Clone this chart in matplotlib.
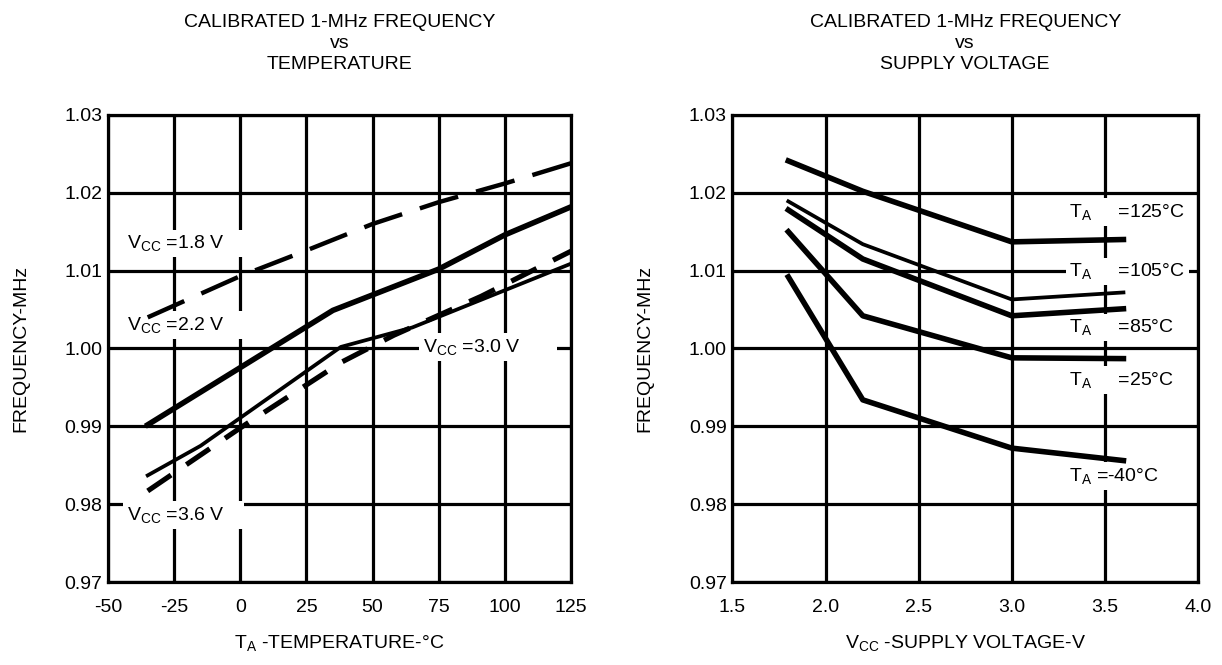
import matplotlib
matplotlib.use('Agg')
import matplotlib.pyplot as plt

plt.rcParams['font.family'] = ['Liberation Sans', 'DejaVu Sans']
plt.rcParams['mathtext.fontset'] = 'custom'
plt.rcParams['mathtext.rm'] = 'Liberation Sans'
plt.rcParams['font.size'] = 14

# left chart: frequency vs temperature, one curve per supply voltage
temp_18 = [-35, 0, 25, 50, 75, 100, 125]
freq_18 = [1.0040, 1.0093, 1.0126, 1.0160, 1.0188, 1.0212, 1.0238]
temp_22 = [-35, 35, 75, 100, 125]
freq_22 = [0.9902, 1.0049, 1.0102, 1.0146, 1.0182]
temp_30 = [-35, -15, 38, 65, 125]
freq_30 = [0.9837, 0.9875, 1.0002, 1.0027, 1.0109]
temp_36 = [-35, 0, 38, 58, 91, 125]
freq_36 = [0.9817, 0.9898, 0.9982, 1.0017, 1.0067, 1.0125]

# right chart: frequency vs supply voltage, one curve per temperature
volts = [1.8, 2.2, 3.0, 3.6]
f_125 = [1.0241, 1.0202, 1.0137, 1.0140]
f_105 = [1.0189, 1.0134, 1.0063, 1.0072]
f_85 = [1.0178, 1.0115, 1.0042, 1.0051]
f_25 = [1.0150, 1.0042, 0.9988, 0.9987]
f_m40 = [1.0092, 0.9934, 0.9872, 0.9856]

temp_ticks = [-50, -25, 0, 25, 50, 75, 100, 125]
volt_ticks = [1.5, 2.0, 2.5, 3.0, 3.5, 4.0]
freq_ticks = [0.97, 0.98, 0.99, 1.00, 1.01, 1.02, 1.03]

fig = plt.figure(figsize=(12.22, 6.65), dpi=100)
ax1 = fig.add_axes([0.0884, 0.1248, 0.3789, 0.7023])
ax2 = fig.add_axes([0.5994, 0.1248, 0.3809, 0.7023])

box = dict(boxstyle='square,pad=0.2', facecolor='white', edgecolor='none')


def style_axes(ax, xticks, xfmt):
    ax.set_ylim(0.97, 1.03)
    ax.set_yticks(freq_ticks)
    ax.set_yticklabels(['%.2f' % v for v in freq_ticks])
    ax.set_xlim(xticks[0], xticks[-1])
    ax.set_xticks(xticks)
    ax.set_xticklabels([xfmt % v for v in xticks])
    ax.set_axisbelow(True)
    ax.grid(True, color='black', linewidth=2.3)
    for s in ax.spines.values():
        s.set_linewidth(2.3)
    ax.tick_params(axis='both', length=0)
    ax.tick_params(axis='x', pad=12)
    ax.tick_params(axis='y', pad=4)
    ax.set_ylabel('FREQUENCY-MHz')
    ax.yaxis.set_label_coords(-0.17, 0.5)


style_axes(ax1, temp_ticks, '%d')
style_axes(ax2, volt_ticks, '%.1f')

ax1.plot(temp_18, freq_18, color='black', lw=3.2, dashes=(9, 4.2), zorder=4)
ax1.plot(temp_22, freq_22, color='black', lw=4, zorder=4)
ax1.plot(temp_30, freq_30, color='black', lw=2.7, zorder=4)
ax1.plot(temp_36, freq_36, color='black', lw=3.7, dashes=(5.5, 3.6), zorder=4)

ax1.text(-43, 1.0135, r'$\mathregular{V_{CC}}$ =1.8 V    ', va='center', bbox=box, zorder=3)
ax1.text(-43, 1.0030, r'$\mathregular{V_{CC}}$ =2.2 V    ', va='center', bbox=box, zorder=3)
ax1.text(69, 1.0002, r'$\mathregular{V_{CC}}$ =3.0 V       ', va='center', bbox=box, zorder=3)
ax1.text(-43, 0.9786, r'$\mathregular{V_{CC}}$ =3.6 V    ', va='center', bbox=box, zorder=3)

ax2.plot(volts, f_125, color='black', lw=4, zorder=4)
ax2.plot(volts, f_105, color='black', lw=2.7, zorder=4)
ax2.plot(volts, f_85, color='black', lw=4, zorder=4)
ax2.plot(volts, f_25, color='black', lw=4, zorder=4)
ax2.plot(volts, f_m40, color='black', lw=4, zorder=4)

ax2.text(3.31, 1.0175, r'$\mathregular{T_A}$     =125°C', va='center', bbox=box, zorder=3)
ax2.text(3.31, 1.0099, r'$\mathregular{T_A}$     =105°C', va='center', bbox=box, zorder=3)
ax2.text(3.31, 1.0027, r'$\mathregular{T_A}$     =85°C', va='center', bbox=box, zorder=3)
ax2.text(3.31, 0.9960, r'$\mathregular{T_A}$     =25°C', va='center', bbox=box, zorder=3)
ax2.text(3.31, 0.98358, r'$\mathregular{T_A}$ =-40°C', va='center', bbox=box, zorder=3)

ax1.set_title('CALIBRATED 1-MHz FREQUENCY\nvs\nTEMPERATURE', pad=33, linespacing=1.3,
              fontsize=14)
ax2.set_title('CALIBRATED 1-MHz FREQUENCY\nvs\nSUPPLY VOLTAGE', pad=33, linespacing=1.3,
              fontsize=14)

ax1.set_xlabel(r'$\mathregular{T_A}$ -TEMPERATURE-°C', va='center')
ax1.xaxis.set_label_coords(0.5, -0.13)
ax2.set_xlabel(r'$\mathregular{V_{CC}}$ -SUPPLY VOLTAGE-V', va='center')
ax2.xaxis.set_label_coords(0.5, -0.13)

fig.savefig('out.png', dpi=100)
